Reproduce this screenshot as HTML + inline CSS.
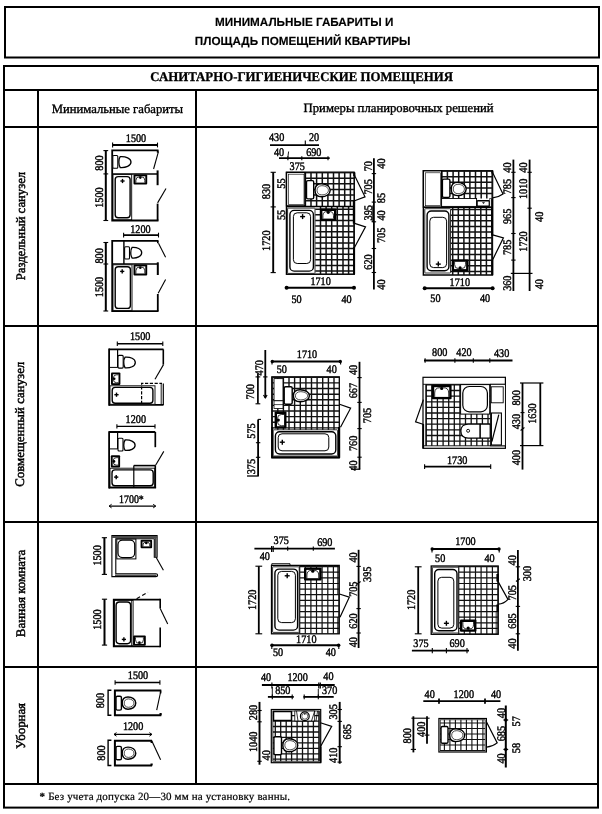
<!DOCTYPE html>
<html lang="ru">
<head>
<meta charset="utf-8">
<title>Минимальные габариты и площадь помещений квартиры</title>
<style>
html,body{margin:0;padding:0;background:#fff;}
body{width:602px;height:814px;overflow:hidden;font-family:"Liberation Serif",serif;}
svg{display:block;position:absolute;left:0;top:0;filter:grayscale(1);}
.frame line,.frame rect{stroke:#000;stroke-width:2;fill:none;}
.t-sans{font-family:"Liberation Sans",sans-serif;font-weight:bold;font-size:11.8px;fill:#000;stroke:#000;stroke-width:0.15;}
.t-head{font-family:"Liberation Serif",serif;font-weight:bold;font-size:13.3px;fill:#000;stroke:#000;stroke-width:0.3;}
.t-col{font-family:"Liberation Serif",serif;font-size:12.6px;fill:#000;stroke:#000;stroke-width:0.35;}
.t-row{font-family:"Liberation Serif",serif;font-size:13px;fill:#000;stroke:#000;stroke-width:0.45;}
.t-foot{font-family:"Liberation Serif",serif;font-size:11px;fill:#000;stroke:#000;stroke-width:0.2;}
.d{font-family:"Liberation Serif",serif;font-size:11.6px;fill:#000;stroke:#000;stroke-width:0.42;}
.w{stroke:#000;stroke-width:1.6;fill:none;}
.l{stroke:#000;stroke-width:1;fill:none;}
.k{stroke:#000;stroke-width:1.3;fill:none;}
.f{stroke:#000;stroke-width:0.9;fill:#fff;}
.g{stroke:#111;stroke-width:0.7;fill:none;}
.gr{stroke:#4a4a4a;fill:none;}
.blk{fill:#000;stroke:none;}
.wh{fill:#fff;stroke:none;}
</style>
</head>
<body>
<svg width="602" height="814" viewBox="0 0 602 814" text-rendering="geometricPrecision">
<rect x="0" y="0" width="602" height="814" fill="#fff"/>

<!-- ===== FRAME ===== -->
<g class="frame">
  <rect x="5" y="7" width="594" height="50.5"/>
  <rect x="4" y="66" width="594" height="741.6"/>
  <line x1="4" y1="90" x2="598" y2="90"/>
  <line x1="4" y1="127" x2="598" y2="127"/>
  <line x1="4" y1="326" x2="598" y2="326"/>
  <line x1="4" y1="522" x2="598" y2="522"/>
  <line x1="4" y1="667" x2="598" y2="667"/>
  <line x1="4" y1="784" x2="598" y2="784"/>
  <line x1="38" y1="90" x2="38" y2="784"/>
  <line x1="196" y1="90" x2="196" y2="784"/>
</g>

<!-- ===== HEADINGS ===== -->
<text class="t-sans" x="215" y="26.3" textLength="178.3" lengthAdjust="spacingAndGlyphs">МИНИМАЛЬНЫЕ ГАБАРИТЫ И</text>
<text class="t-sans" x="194.8" y="45.2" textLength="215.7" lengthAdjust="spacingAndGlyphs">ПЛОЩАДЬ ПОМЕЩЕНИЙ КВАРТИРЫ</text>
<text class="t-head" x="150.3" y="81.4" textLength="302.7" lengthAdjust="spacingAndGlyphs">САНИТАРНО-ГИГИЕНИЧЕСКИЕ ПОМЕЩЕНИЯ</text>
<text class="t-col" x="51.7" y="112.6" textLength="131.4" lengthAdjust="spacingAndGlyphs">Минимальные габариты</text>
<text class="t-col" x="303.6" y="112.4" textLength="190" lengthAdjust="spacingAndGlyphs">Примеры планировочных решений</text>

<text class="t-row" transform="translate(25.3,280.3) rotate(-90)" textLength="108.4" lengthAdjust="spacingAndGlyphs">Раздельный санузел</text>
<text class="t-row" transform="translate(24.3,486.8) rotate(-90)" textLength="125.1" lengthAdjust="spacingAndGlyphs">Совмещенный санузел</text>
<text class="t-row" transform="translate(25.1,637.2) rotate(-90)" textLength="87.5" lengthAdjust="spacingAndGlyphs">Ванная комната</text>
<text class="t-row" transform="translate(25.2,749) rotate(-90)" textLength="46" lengthAdjust="spacingAndGlyphs">Уборная</text>

<text class="t-foot" x="39.6" y="799.7" textLength="250.4" lengthAdjust="spacing"><tspan font-weight="bold">*</tspan> Без учета допуска 20—30 мм на установку ванны.</text>

<!-- ===== DRAWINGS ===== -->
<!-- ===== LEFT COLUMN: minimal sizes ===== -->
<g id="l1a">
<text class="d" transform="translate(136,141.8) scale(.88,1)" text-anchor="middle">1500</text>
<line class="k" x1="112.6" y1="145" x2="157.5" y2="145" style="stroke-width:1.9"/>
<line class="l" x1="112.6" y1="142.6" x2="112.6" y2="147.4" style="stroke-width:1.1"/>
<line class="l" x1="157.5" y1="142.6" x2="157.5" y2="147.4" style="stroke-width:1.1"/>
<line class="k" x1="105.8" y1="150.6" x2="105.8" y2="220.5" style="stroke-width:2"/>
<line class="l" x1="103.4" y1="150.6" x2="108.2" y2="150.6" style="stroke-width:1.1"/>
<line class="l" x1="103.4" y1="173.9" x2="108.2" y2="173.9" style="stroke-width:1.1"/>
<line class="l" x1="103.4" y1="220.5" x2="108.2" y2="220.5" style="stroke-width:1.1"/>
<text class="d" transform="translate(98.6,163) rotate(-90) scale(.88,1)" y="3.9" text-anchor="middle">800</text>
<text class="d" transform="translate(98.6,197.6) rotate(-90) scale(.88,1)" y="3.9" text-anchor="middle">1500</text>
<path class="w" d="M158.5 150.3 L112.2 150.3 L112.2 220.5 L158.5 220.5" style="stroke-width:1.8"/>
<line class="w" x1="112.2" y1="173.9" x2="157.5" y2="173.9" style="stroke-width:1.5"/>
<line class="w" x1="157.6" y1="150.3" x2="157.6" y2="152.7" style="stroke-width:1.6"/>
<line class="w" x1="157.6" y1="170.4" x2="157.6" y2="185.2" style="stroke-width:2"/>
<line class="w" x1="157.6" y1="203.6" x2="157.6" y2="220.5" style="stroke-width:1.8"/>
<line class="l" x1="158.5" y1="151.3" x2="153.6" y2="169" style="stroke-width:1.1"/>
<line class="l" x1="166" y1="188.5" x2="157.6" y2="202.9" style="stroke-width:1.1"/>
<rect class="f" x="112.8" y="155.5" width="5" height="12.8" rx="1" style="stroke-width:1.1"/>
<path class="f" d="M120.2 156.7 C125.6 156.3 131 158.3 131 162.1 C131 165.9 125.6 167.9 120.2 167.5 C118.4 165.1 118.4 159.1 120.2 156.7 Z" style="stroke-width:1.3"/>
<rect class="f" x="113" y="174.6" width="18.7" height="45.1" style="stroke-width:0.9"/>
<rect class="f" x="115.2" y="176.6" width="14.9" height="41.1" rx="3" style="stroke-width:1.4"/>
<line class="l" x1="120.4" y1="181" x2="124.6" y2="181" style="stroke-width:1.4"/>
<line class="l" x1="122.5" y1="178.9" x2="122.5" y2="183.1" style="stroke-width:1.4"/>
<rect class="blk" x="133.5" y="174.4" width="13.7" height="10.1" rx="1"/>
<rect class="wh" x="135.4" y="176.3" width="9.9" height="6.3"/>
<path class="l" d="M135.9 182.6 V180.3 Q135.9 176.8 139.4 176.8 H141.3 Q144.8 176.8 144.8 180.3 V182.6" style="stroke-width:0.8"/>
<circle class="blk" cx="140.3" cy="177.6" r="1.3"/>
</g>
<g id="l1b">
<text class="d" transform="translate(140.4,232.6) scale(.88,1)" text-anchor="middle">1200</text>
<line class="k" x1="123.6" y1="235.1" x2="158.5" y2="235.1" style="stroke-width:1.9"/>
<line class="l" x1="123.6" y1="232.7" x2="123.6" y2="237.5" style="stroke-width:1.1"/>
<line class="l" x1="158.5" y1="232.7" x2="158.5" y2="237.5" style="stroke-width:1.1"/>
<line class="k" x1="105.8" y1="242.5" x2="105.8" y2="311" style="stroke-width:2"/>
<line class="l" x1="103.4" y1="242.5" x2="108.2" y2="242.5" style="stroke-width:1.1"/>
<line class="l" x1="103.4" y1="264" x2="108.2" y2="264" style="stroke-width:1.1"/>
<line class="l" x1="103.4" y1="311" x2="108.2" y2="311" style="stroke-width:1.1"/>
<text class="d" transform="translate(98.6,255.9) rotate(-90) scale(.88,1)" y="3.9" text-anchor="middle">800</text>
<text class="d" transform="translate(98.6,287) rotate(-90) scale(.88,1)" y="3.9" text-anchor="middle">1500</text>
<path class="w" d="M158.5 240.9 L112.2 240.9 L112.2 311.2 L158.5 311.2" style="stroke-width:1.8"/>
<line class="w" x1="112.2" y1="264" x2="157.8" y2="264" style="stroke-width:1.5"/>
<line class="w" x1="123.9" y1="240.9" x2="123.9" y2="264" style="stroke-width:1.4"/>
<line class="w" x1="157.8" y1="240.9" x2="157.8" y2="243.2" style="stroke-width:1.6"/>
<line class="w" x1="157.8" y1="262.3" x2="157.8" y2="275" style="stroke-width:2"/>
<line class="w" x1="157.8" y1="294" x2="157.8" y2="311.2" style="stroke-width:1.8"/>
<line class="l" x1="158.5" y1="243.2" x2="165.6" y2="257.3" style="stroke-width:1.1"/>
<line class="l" x1="165.6" y1="279.6" x2="158.2" y2="293.3" style="stroke-width:1.1"/>
<rect class="f" x="124.6" y="246.7" width="4.9" height="12.3" rx="1" style="stroke-width:1.1"/>
<path class="f" d="M132.1 247.4 C136.8 247 141.7 249 141.7 252.7 C141.7 256.4 136.8 258.4 132.1 258 C130.3 255.6 130.3 249.8 132.1 247.4 Z" style="stroke-width:1.3"/>
<rect class="f" x="113" y="264.8" width="19" height="45.6" style="stroke-width:0.9"/>
<rect class="f" x="115.2" y="266.8" width="15.2" height="41.6" rx="3" style="stroke-width:1.4"/>
<line class="l" x1="120.1" y1="271.4" x2="124.3" y2="271.4" style="stroke-width:1.4"/>
<line class="l" x1="122.2" y1="269.3" x2="122.2" y2="273.5" style="stroke-width:1.4"/>
<rect class="blk" x="133.5" y="264.5" width="13.7" height="10.9" rx="1"/>
<rect class="wh" x="135.4" y="266.4" width="9.9" height="7.1"/>
<path class="l" d="M135.9 273.5 V270.8 Q135.9 266.9 139.8 266.9 H140.9 Q144.8 266.9 144.8 270.8 V273.5" style="stroke-width:0.8"/>
<circle class="blk" cx="140.3" cy="267.7" r="1.3"/>
</g>
<g id="l2a">
<text class="d" transform="translate(140.2,340.2) scale(.88,1)" text-anchor="middle">1500</text>
<line class="k" x1="117.3" y1="343.7" x2="162.8" y2="343.7" style="stroke-width:1.4"/>
<line class="l" x1="117.3" y1="341.5" x2="117.3" y2="345.9" style="stroke-width:1.1"/>
<line class="l" x1="162.8" y1="341.5" x2="162.8" y2="345.9" style="stroke-width:1.1"/>
<path class="w" d="M109.1 349.4 L163.5 349.4" style="stroke-width:1.8"/>
<path class="w" d="M109.1 348.6 L109.1 405.7" style="stroke-width:1.8"/>
<line class="w" x1="109.1" y1="404.9" x2="163.5" y2="404.9" style="stroke-width:1.8"/>
<line class="w" x1="163.3" y1="349.4" x2="163.3" y2="364.6" style="stroke-width:1.6"/>
<line class="l" x1="163.5" y1="364.6" x2="155" y2="379.2" style="stroke-width:1.1"/>
<line class="l" x1="163.3" y1="383.4" x2="163.3" y2="404.9" style="stroke-width:1.2"/>
<line class="l" x1="161.2" y1="383.4" x2="161.2" y2="404" style="stroke-width:0.9"/>
<line class="l" x1="117.6" y1="349.4" x2="117.6" y2="367.4" style="stroke-width:1.2"/>
<line class="l" x1="109.1" y1="367.4" x2="117.6" y2="367.4" style="stroke-width:1"/>
<rect class="f" x="118" y="355.4" width="5.2" height="12.7" rx="1" style="stroke-width:1.1"/>
<path class="f" d="M125.1 357.1 C130.2 356.7 135.3 358.7 135.3 362.5 C135.3 366.3 130.2 368.3 125.1 367.9 C123.3 365.5 123.3 359.5 125.1 357.1 Z" style="stroke-width:1.3"/>
<rect class="blk" x="111" y="372.4" width="9.4" height="12.7" rx="1"/>
<rect class="wh" x="112.9" y="374.3" width="5.6" height="8.9"/>
<path class="l" d="M118.5 374.8 H116.5 Q113.4 374.8 113.4 377.9 V379.6 Q113.4 382.7 116.5 382.7 H118.5" style="stroke-width:0.8"/>
<circle class="blk" cx="114.2" cy="378.8" r="1.3"/>
<rect class="f" x="110" y="385.8" width="45" height="18.5" style="stroke-width:0.9"/>
<rect class="f" x="112.2" y="387.4" width="40.7" height="15.8" rx="3" style="stroke-width:1.4"/>
<line class="l" x1="114.4" y1="394.7" x2="118.6" y2="394.7" style="stroke-width:1.4"/>
<line class="l" x1="116.5" y1="392.6" x2="116.5" y2="396.8" style="stroke-width:1.4"/>
<path class="l" d="M141.6 404 V383.4 H162" style="stroke-width:1.2" stroke-dasharray="3.2 1.6"/>
<text class="d" transform="translate(135.8,423.4) scale(.88,1)" text-anchor="middle">1200</text>
<line class="k" x1="116.9" y1="426.4" x2="155" y2="426.4" style="stroke-width:1.4"/>
<line class="l" x1="116.9" y1="424.2" x2="116.9" y2="428.6" style="stroke-width:1.1"/>
<line class="l" x1="155" y1="424.2" x2="155" y2="428.6" style="stroke-width:1.1"/>
</g>
<g id="l2b">
<path class="w" d="M109.1 431.2 L109.1 488.5" style="stroke-width:1.8"/>
<line class="w" x1="109.1" y1="432" x2="155.3" y2="432" style="stroke-width:1.8"/>
<line class="w" x1="109.1" y1="487.7" x2="156.1" y2="487.7" style="stroke-width:1.8"/>
<line class="w" x1="155.3" y1="432" x2="155.3" y2="447.2" style="stroke-width:1.7"/>
<line class="w" x1="155.3" y1="465.8" x2="155.3" y2="487.7" style="stroke-width:1.6"/>
<line class="l" x1="163.8" y1="451.4" x2="155.3" y2="465.8" style="stroke-width:1.1"/>
<line class="l" x1="117.6" y1="432" x2="117.6" y2="448.9" style="stroke-width:1.2"/>
<line class="l" x1="109.1" y1="448.9" x2="117.6" y2="448.9" style="stroke-width:1"/>
<rect class="f" x="118" y="438.3" width="5" height="12.7" rx="1" style="stroke-width:1.1"/>
<path class="f" d="M125.1 440 C130.1 439.6 135.1 441.6 135.1 445.2 C135.1 448.8 130.1 450.8 125.1 450.4 C123.3 448.1 123.3 442.3 125.1 440 Z" style="stroke-width:1.3"/>
<rect class="blk" x="110.8" y="455.3" width="9.3" height="12.2" rx="1"/>
<rect class="wh" x="112.7" y="457.2" width="5.5" height="8.4"/>
<path class="l" d="M118.2 457.7 H116.2 Q113.2 457.7 113.2 460.7 V462.1 Q113.2 465.1 116.2 465.1 H118.2" style="stroke-width:0.8"/>
<circle class="blk" cx="114" cy="461.4" r="1.3"/>
<rect class="f" x="110" y="468.2" width="44.6" height="18.8" style="stroke-width:0.9"/>
<rect class="f" x="112" y="469.9" width="41.2" height="15.8" rx="3" style="stroke-width:1.4"/>
<line class="l" x1="114.1" y1="477.1" x2="118.3" y2="477.1" style="stroke-width:1.4"/>
<line class="l" x1="116.2" y1="475" x2="116.2" y2="479.2" style="stroke-width:1.4"/>
<line class="l" x1="133.8" y1="465.6" x2="155.3" y2="465.6" style="stroke-width:1.6"/>
<line class="l" x1="133.8" y1="465.6" x2="133.8" y2="487.7" style="stroke-width:1.2"/>
<text class="d" transform="translate(131.4,502.6) scale(.88,1)" text-anchor="middle" textLength="28.1" lengthAdjust="spacingAndGlyphs">1700*</text>
<line class="k" x1="109.1" y1="506.1" x2="155.7" y2="506.1" style="stroke-width:1.4"/>
<path class="l" d="M111.6 504.3 L109.1 506.1 L111.6 507.9" style="stroke-width:1"/>
<path class="l" d="M153.2 504.3 L155.7 506.1 L153.2 507.9" style="stroke-width:1"/>
</g>
<g id="l3a">
<line class="k" x1="104.4" y1="537.7" x2="104.4" y2="574.4" style="stroke-width:2"/>
<line class="l" x1="101.8" y1="537.7" x2="107" y2="537.7" style="stroke-width:1.1"/>
<line class="l" x1="101.8" y1="574.4" x2="107" y2="574.4" style="stroke-width:1.1"/>
<text class="d" transform="translate(97,555.4) rotate(-90) scale(.88,1)" y="3.9" text-anchor="middle">1500</text>
<path class="f" d="M111.9 535.6 H157.1 V557.2 H154.3 V538.7 H115.8 V573.7 H156 Q157.6 573.7 157.6 575.2 Q157.6 576.6 156 576.6 H111.9 Z" style="stroke-width:1.1"/>
<line class="gr" x1="112" y1="537.1" x2="157" y2="537.1" style="stroke-width:2"/>
<line class="gr" x1="155.7" y1="537" x2="155.7" y2="557" style="stroke-width:1.8"/>
<line class="gr" x1="115" y1="575.2" x2="156.5" y2="575.2" style="stroke-width:1.4"/>
<line class="l" x1="156.1" y1="557.2" x2="163.4" y2="570.2" style="stroke-width:1.1"/>
<rect class="f" x="116.8" y="539.1" width="19.1" height="19.8" style="stroke-width:1"/>
<rect class="f" x="118" y="540.2" width="16.7" height="17.4" rx="4.5" style="stroke-width:1.2"/>
<rect class="blk" x="140.6" y="539.8" width="11.5" height="8.5" rx="1"/>
<rect class="wh" x="142.5" y="541.7" width="7.7" height="4.7"/>
<path class="l" d="M143 546.4 V544.8 Q143 542.2 145.6 542.2 H147.1 Q149.7 542.2 149.7 544.8 V546.4" style="stroke-width:0.8"/>
<circle class="blk" cx="146.3" cy="543" r="1.3"/>
</g>
<g id="l3b">
<line class="k" x1="104.5" y1="599.2" x2="104.5" y2="645.1" style="stroke-width:2"/>
<line class="l" x1="101.9" y1="599.2" x2="107.1" y2="599.2" style="stroke-width:1.1"/>
<line class="l" x1="101.9" y1="645.1" x2="107.1" y2="645.1" style="stroke-width:1.1"/>
<text class="d" transform="translate(97,619.6) rotate(-90) scale(.88,1)" y="3.9" text-anchor="middle">1500</text>
<path class="w" d="M160.2 599.6 L113.7 599.6 L113.7 646.5 L160.2 646.5" style="stroke-width:1.7"/>
<line class="w" x1="160.2" y1="598.8" x2="160.2" y2="608.4" style="stroke-width:1.6"/>
<line class="w" x1="160.2" y1="627.4" x2="160.2" y2="647.3" style="stroke-width:1.6"/>
<line class="l" x1="160.2" y1="608.4" x2="167.7" y2="623.9" style="stroke-width:1.1"/>
<line class="l" x1="136.6" y1="598.8" x2="147.9" y2="592.1" style="stroke-width:1.1" stroke-dasharray="4 2.5"/>
<rect class="f" x="114.5" y="600.4" width="18.6" height="45.3" style="stroke-width:0.9"/>
<line class="l" x1="131.6" y1="600" x2="131.6" y2="646" style="stroke-width:0.8"/>
<rect class="f" x="116.1" y="602" width="14.5" height="41.7" rx="3.4" style="stroke-width:1.4"/>
<line class="l" x1="121.8" y1="639.4" x2="126" y2="639.4" style="stroke-width:1.4"/>
<line class="l" x1="123.9" y1="637.3" x2="123.9" y2="641.5" style="stroke-width:1.4"/>
<rect class="blk" x="133.1" y="635.5" width="12.7" height="10.3" rx="1"/>
<rect class="wh" x="135" y="637.4" width="8.9" height="6.5"/>
<path class="l" d="M135.5 637.4 V639.8 Q135.5 643.4 139.1 643.4 H139.8 Q143.4 643.4 143.4 639.8 V637.4" style="stroke-width:0.8"/>
<circle class="blk" cx="139.4" cy="642.6" r="1.3"/>
</g>
<g id="l4a">
<text class="d" transform="translate(138,678.6) scale(.88,1)" text-anchor="middle">1500</text>
<line class="k" x1="115.1" y1="682.5" x2="159.9" y2="682.5" style="stroke-width:1.4"/>
<line class="l" x1="115.1" y1="680.3" x2="115.1" y2="684.7" style="stroke-width:1.1"/>
<line class="l" x1="159.9" y1="680.3" x2="159.9" y2="684.7" style="stroke-width:1.1"/>
<path class="l" d="M111.4 690.3 L108.1 690.3 L108.1 715.3 L111.4 715.3" style="stroke-width:1.4"/>
<text class="d" transform="translate(99.8,700.6) rotate(-90) scale(.88,1)" y="3.9" text-anchor="middle">800</text>
<path class="w" d="M161.3 690.6 L114.9 690.6 L114.9 715.3 L161.3 715.3" style="stroke-width:2"/>
<line class="w" x1="160.6" y1="690.6" x2="160.6" y2="693.4" style="stroke-width:1.6"/>
<line class="w" x1="160.6" y1="713" x2="160.6" y2="715.3" style="stroke-width:2.2"/>
<line class="l" x1="160.6" y1="692" x2="156.7" y2="710.1" style="stroke-width:1.1"/>
<rect class="f" x="116" y="696.2" width="5.4" height="13.9" rx="1.4" style="stroke-width:1.4"/>
<path class="f" d="M128 697 C132.1 697 135.8 699.3 135.8 703.1 C135.8 706.9 132.1 709.2 128 709.2 C124.4 709.2 122.2 706.8 122.2 703.1 C122.2 699.4 124.4 697 128 697 Z" style="stroke-width:1.4"/>
<path class="f" d="M128.4 698.9 C131.3 698.9 134 700.5 134 703.1 C134 705.7 131.3 707.3 128.4 707.3 C125.8 707.3 124.2 705.6 124.2 703.1 C124.2 700.6 125.8 698.9 128.4 698.9 Z" style="stroke-width:0.7"/>
</g>
<g id="l4b">
<text class="d" transform="translate(133.1,730.1) scale(.88,1)" text-anchor="middle">1200</text>
<line class="k" x1="114" y1="734.4" x2="151.9" y2="734.4" style="stroke-width:1.4"/>
<path class="l" d="M116.5 732.6 L114 734.4 L116.5 736.2" style="stroke-width:1"/>
<path class="l" d="M149.4 732.6 L151.9 734.4 L149.4 736.2" style="stroke-width:1"/>
<path class="l" d="M111.4 740.3 L108.1 740.3 L108.1 765.5 L111.4 765.5" style="stroke-width:1.4"/>
<text class="d" transform="translate(100.6,753) rotate(-90) scale(.88,1)" y="3.9" text-anchor="middle">800</text>
<path class="w" d="M152.1 740.7 L114.9 740.7 L114.9 765.5 L152.1 765.5" style="stroke-width:2"/>
<line class="w" x1="151.6" y1="740.7" x2="151.6" y2="743" style="stroke-width:2"/>
<line class="w" x1="151.6" y1="763.5" x2="151.6" y2="765.5" style="stroke-width:2.2"/>
<line class="l" x1="152.1" y1="741.4" x2="160.6" y2="759.8" style="stroke-width:1.1"/>
<rect class="f" x="116" y="746.4" width="5.4" height="13.4" rx="1.4" style="stroke-width:1.4"/>
<path class="f" d="M128 747.1 C132.1 747.1 135.8 749.4 135.8 753.2 C135.8 757 132.1 759.3 128 759.3 C124.4 759.3 122.2 756.9 122.2 753.2 C122.2 749.5 124.4 747.1 128 747.1 Z" style="stroke-width:1.4"/>
<path class="f" d="M128.4 749 C131.3 749 134 750.6 134 753.2 C134 755.8 131.3 757.4 128.4 757.4 C125.8 757.4 124.2 755.7 124.2 753.2 C124.2 750.7 125.8 749 128.4 749 Z" style="stroke-width:0.7"/>
</g>
<!-- ===== ROW 1 RIGHT: examples ===== -->
<g id="r1a">
<text class="d" transform="translate(276.6,141) scale(.88,1)" text-anchor="middle">430</text>
<text class="d" transform="translate(314,141) scale(.88,1)" text-anchor="middle">20</text>
<line class="k" x1="270" y1="145.1" x2="319" y2="145.1" style="stroke-width:1.8"/>
<line class="l" x1="305.3" y1="140.5" x2="305.3" y2="146" style="stroke-width:1.1"/>
<text class="d" transform="translate(279,155.9) scale(.88,1)" text-anchor="middle">40</text>
<text class="d" transform="translate(313.8,155.9) scale(.88,1)" text-anchor="middle">690</text>
<path class="l" d="M288.6 151.5 L287.9 157" style="stroke-width:0.9"/>
<line class="k" x1="279" y1="158.2" x2="329.7" y2="158.2" style="stroke-width:1.8"/>
<line class="l" x1="287.9" y1="156.2" x2="287.9" y2="160.2" style="stroke-width:1.1"/>
<line class="l" x1="301.8" y1="156.2" x2="301.8" y2="160.2" style="stroke-width:1.1"/>
<line class="l" x1="328" y1="156.2" x2="328" y2="160.2" style="stroke-width:1.1"/>
<text class="d" transform="translate(297.2,169.9) scale(.88,1)" text-anchor="middle">375</text>
<line class="k" x1="273.2" y1="172.3" x2="273.2" y2="272.6" style="stroke-width:1.9"/>
<line class="l" x1="270.6" y1="172.3" x2="275.8" y2="172.3" style="stroke-width:1.1"/>
<line class="l" x1="270.6" y1="206.9" x2="275.8" y2="206.9" style="stroke-width:1.1"/>
<line class="l" x1="270.6" y1="272.6" x2="275.8" y2="272.6" style="stroke-width:1.1"/>
<text class="d" transform="translate(266.4,191.5) rotate(-90) scale(.88,1)" y="3.9" text-anchor="middle">830</text>
<text class="d" transform="translate(266.4,240.7) rotate(-90) scale(.88,1)" y="3.9" text-anchor="middle">1720</text>
<text class="d" transform="translate(281.2,183.6) rotate(-90) scale(.88,1)" y="3.9" text-anchor="middle">55</text>
<text class="d" transform="translate(281.2,214.9) rotate(-90) scale(.88,1)" y="3.9" text-anchor="middle">55</text>
<rect class="f" x="286.5" y="172.4" width="67.7" height="101.8" style="stroke-width:1.5"/>
<path class="g" d="M305.4 172.4V206M311 172.4V206M316.6 172.4V206M322.3 172.4V206M327.9 172.4V206M333.5 172.4V206M339.1 172.4V206M344.7 172.4V206M350.4 172.4V206M305.4 172.6H354.2M305.4 178.2H354.2M305.4 183.8H354.2M305.4 189.5H354.2M305.4 195.1H354.2M305.4 200.7H354.2" style="stroke-width:1.5"/>
<path class="g" d="M320.5 207V274.2M326.1 207V274.2M331.7 207V274.2M337.3 207V274.2M343 207V274.2M348.6 207V274.2M354.2 207V274.2M315.3 209.2H354.2M315.3 214.8H354.2M315.3 220.4H354.2M315.3 226.1H354.2M315.3 231.7H354.2M315.3 237.3H354.2M315.3 242.9H354.2M315.3 248.5H354.2M315.3 254.2H354.2M315.3 259.8H354.2M315.3 265.4H354.2M315.3 271H354.2" style="stroke-width:1.5"/>
<rect class="f" x="286.5" y="172.4" width="18.4" height="33.5" style="stroke-width:1.3"/>
<rect class="f" x="288.3" y="174.2" width="15.7" height="30.3" style="stroke-width:0.6"/>
<line class="l" x1="286.5" y1="206.5" x2="354.2" y2="206.5" style="stroke-width:1.7"/>
<line class="w" x1="354" y1="200.4" x2="354" y2="223.6" style="stroke-width:2.4"/>
<line class="w" x1="354.3" y1="172.4" x2="354.3" y2="176" style="stroke-width:2.2"/>
<line class="w" x1="354.1" y1="247" x2="354.1" y2="274.2" style="stroke-width:2"/>
<rect class="f" x="306.5" y="180.6" width="7.2" height="18.3" rx="1.4" style="stroke-width:1.4"/>
<path class="f" d="M321.5 183.8 C326 183.8 330.2 186.3 330.2 190.3 C330.2 194.3 326 196.8 321.5 196.8 C317.4 196.8 315 194.2 315 190.3 C315 186.4 317.4 183.8 321.5 183.8 Z" style="stroke-width:1.4"/>
<path class="f" d="M321.8 185.7 C325.3 185.7 328.4 187.4 328.4 190.3 C328.4 193.2 325.3 194.9 321.8 194.9 C318.8 194.9 317 193.1 317 190.3 C317 187.5 318.8 185.7 321.8 185.7 Z" style="stroke-width:0.7"/>
<rect class="f" x="287.6" y="208.1" width="27.4" height="65.3" rx="0.6" style="stroke-width:0.8"/>
<rect class="f" x="289.9" y="210.4" width="23.5" height="60.7" rx="4.2" style="stroke-width:1.4"/>
<rect class="f" x="293.4" y="212.8" width="17.2" height="50.7" rx="3.8" style="stroke-width:1"/>
<line class="l" x1="300.1" y1="216.6" x2="305.1" y2="216.6" style="stroke-width:1.4"/>
<line class="l" x1="302.6" y1="214.1" x2="302.6" y2="219.1" style="stroke-width:1.4"/>
<rect class="blk" x="320" y="208.6" width="16.4" height="12.4" rx="1"/>
<rect class="wh" x="322.4" y="211" width="11.6" height="7.6"/>
<path class="l" d="M322.9 218.6 V215.7 Q322.9 211.5 327.1 211.5 H329.3 Q333.5 211.5 333.5 215.7 V218.6" style="stroke-width:0.8"/>
<circle class="blk" cx="328.2" cy="212.3" r="1.6"/>
<path class="l" d="M354.6 175.5 L365 196.8 L354.6 200.8" style="stroke-width:1.2"/>
<path class="l" d="M354.6 223.4 L365.5 226.9 L354.6 247.3" style="stroke-width:1.2"/>
<line class="k" x1="373.9" y1="158.2" x2="373.9" y2="289.6" style="stroke-width:1.8"/>
<line class="l" x1="371.7" y1="173.6" x2="376.1" y2="173.6" style="stroke-width:1.1"/>
<line class="l" x1="371.7" y1="202.1" x2="376.1" y2="202.1" style="stroke-width:1.1"/>
<line class="l" x1="371.7" y1="221.8" x2="376.1" y2="221.8" style="stroke-width:1.1"/>
<line class="l" x1="371.7" y1="248.5" x2="376.1" y2="248.5" style="stroke-width:1.1"/>
<line class="l" x1="371.7" y1="272.5" x2="376.1" y2="272.5" style="stroke-width:1.1"/>
<text class="d" transform="translate(367.6,166.2) rotate(-90) scale(.88,1)" y="3.9" text-anchor="middle">70</text>
<text class="d" transform="translate(367.6,186.9) rotate(-90) scale(.88,1)" y="3.9" text-anchor="middle">705</text>
<text class="d" transform="translate(367.6,212.8) rotate(-90) scale(.88,1)" y="3.9" text-anchor="middle">395</text>
<text class="d" transform="translate(367.6,262) rotate(-90) scale(.88,1)" y="3.9" text-anchor="middle">620</text>
<text class="d" transform="translate(380.6,163.6) rotate(-90) scale(.88,1)" y="3.9" text-anchor="middle">40</text>
<text class="d" transform="translate(380.6,198.1) rotate(-90) scale(.88,1)" y="3.9" text-anchor="middle">85</text>
<text class="d" transform="translate(380.6,215.4) rotate(-90) scale(.88,1)" y="3.9" text-anchor="middle">40</text>
<text class="d" transform="translate(380.6,235.4) rotate(-90) scale(.88,1)" y="3.9" text-anchor="middle">705</text>
<text class="d" transform="translate(380.6,284.6) rotate(-90) scale(.88,1)" y="3.9" text-anchor="middle">40</text>
<line class="l" x1="372.3" y1="205.5" x2="372.3" y2="222" style="stroke-width:0.9"/>
<text class="d" transform="translate(320.6,284.7) scale(.88,1)" text-anchor="middle">1710</text>
<line class="k" x1="286.2" y1="287.8" x2="354.2" y2="287.8" style="stroke-width:2"/>
<circle cx="286.6" cy="287.8" r="2"/><circle cx="354" cy="287.8" r="2"/>
<text class="d" transform="translate(296.5,303) scale(.88,1)" text-anchor="middle">50</text>
<text class="d" transform="translate(346.5,303) scale(.88,1)" text-anchor="middle">40</text>
</g>
<g id="r1b">
<rect class="f" x="423.4" y="170.8" width="69" height="104.2" style="stroke-width:1.5"/>
<path class="g" d="M441.8 170.8V198.4M447.4 170.8V198.4M453.1 170.8V198.4M458.7 170.8V198.4M464.3 170.8V198.4M469.9 170.8V198.4M475.5 170.8V198.4M481.2 170.8V198.4M486.8 170.8V198.4M492.4 170.8V198.4M441.8 171.1H492.4M441.8 176.7H492.4M441.8 182.3H492.4M441.8 188H492.4M441.8 193.6H492.4" style="stroke-width:1.5"/>
<path class="g" d="M452.7 208V275M458.3 208V275M463.9 208V275M469.5 208V275M475.1 208V275M480.8 208V275M486.4 208V275M492 208V275M450.6 209.6H492.4M450.6 215.2H492.4M450.6 220.8H492.4M450.6 226.5H492.4M450.6 232.1H492.4M450.6 237.7H492.4M450.6 243.3H492.4M450.6 248.9H492.4M450.6 254.6H492.4M450.6 260.2H492.4M450.6 265.8H492.4M450.6 271.4H492.4" style="stroke-width:1.5"/>
<rect class="f" x="423.4" y="170.8" width="18.2" height="36.5" style="stroke-width:1.3"/>
<rect class="f" x="425.3" y="172.8" width="15.2" height="32.9" style="stroke-width:0.6"/>
<rect class="f" x="441.6" y="198.5" width="35" height="7.9" style="stroke-width:0.9"/>
<rect class="f" x="477" y="200.8" width="12.4" height="5.4" rx="0.8" style="stroke-width:1.5"/>
<path class="blk" d="M482 202.2 h3 l-1.5 1.8 Z"/>
<rect class="f" x="489.8" y="198.5" width="2.6" height="8.5" style="stroke-width:0.6"/>
<line class="l" x1="423.4" y1="207.3" x2="492.4" y2="207.3" style="stroke-width:1.6"/>
<line class="w" x1="492.2" y1="198.5" x2="492.2" y2="235.6" style="stroke-width:2.2"/>
<line class="w" x1="492.3" y1="170.8" x2="492.3" y2="173.5" style="stroke-width:2"/>
<line class="w" x1="492.3" y1="259.9" x2="492.3" y2="275" style="stroke-width:2"/>
<rect class="f" x="442.4" y="179.1" width="7.5" height="18.3" rx="1.4" style="stroke-width:1.4"/>
<path class="f" d="M457.6 182.4 C462.1 182.4 466.2 184.9 466.2 189 C466.2 193.1 462.1 195.6 457.6 195.6 C453.6 195.6 451.2 193 451.2 189 C451.2 185 453.6 182.4 457.6 182.4 Z" style="stroke-width:1.4"/>
<path class="f" d="M458 184.3 C461.3 184.3 464.4 186.1 464.4 189 C464.4 191.9 461.3 193.7 458 193.7 C455 193.7 453.2 191.8 453.2 189 C453.2 186.2 455 184.3 458 184.3 Z" style="stroke-width:0.7"/>
<rect class="f" x="424.8" y="208.7" width="25.7" height="64.3" rx="0.6" style="stroke-width:0.8"/>
<rect class="f" x="427.1" y="211" width="21.8" height="59.7" rx="4.2" style="stroke-width:1.4"/>
<rect class="f" x="429.8" y="217.3" width="16.8" height="50.3" rx="3.8" style="stroke-width:1"/>
<line class="l" x1="435.8" y1="264.1" x2="440.8" y2="264.1" style="stroke-width:1.4"/>
<line class="l" x1="438.3" y1="261.6" x2="438.3" y2="266.6" style="stroke-width:1.4"/>
<rect class="blk" x="451.7" y="259.4" width="16.8" height="12.1" rx="1"/>
<rect class="wh" x="454.1" y="261.8" width="12" height="7.3"/>
<path class="l" d="M454.6 261.8 V264.6 Q454.6 268.6 458.6 268.6 H461.6 Q465.6 268.6 465.6 264.6 V261.8" style="stroke-width:0.8"/>
<circle class="blk" cx="460.1" cy="267.8" r="1.6"/>
<path class="l" d="M492.6 172.5 L503 194 Q498 197.6 492.6 197.9" style="stroke-width:1.2"/>
<path class="l" d="M492.6 234.8 L503.4 237.8 L492.6 259.9" style="stroke-width:1.2"/>
<line class="k" x1="513.4" y1="159.6" x2="513.4" y2="291" style="stroke-width:1.8"/>
<line class="l" x1="511.2" y1="172.3" x2="515.6" y2="172.3" style="stroke-width:1.1"/>
<line class="l" x1="511.2" y1="197.6" x2="515.6" y2="197.6" style="stroke-width:1.1"/>
<line class="l" x1="511.2" y1="233.5" x2="515.6" y2="233.5" style="stroke-width:1.1"/>
<line class="l" x1="511.2" y1="260.1" x2="515.6" y2="260.1" style="stroke-width:1.1"/>
<line class="k" x1="529.6" y1="159.6" x2="529.6" y2="291" style="stroke-width:1.8"/>
<line class="l" x1="527.4" y1="172.3" x2="531.8" y2="172.3" style="stroke-width:1.1"/>
<line class="l" x1="527.4" y1="208.2" x2="531.8" y2="208.2" style="stroke-width:1.1"/>
<line class="l" x1="510.8" y1="273.4" x2="532.5" y2="273.4" style="stroke-width:1.2"/>
<text class="d" transform="translate(506.8,167.6) rotate(-90) scale(.88,1)" y="3.9" text-anchor="middle">40</text>
<text class="d" transform="translate(506.8,186.6) rotate(-90) scale(.88,1)" y="3.9" text-anchor="middle">785</text>
<text class="d" transform="translate(506.8,216.4) rotate(-90) scale(.88,1)" y="3.9" text-anchor="middle">965</text>
<text class="d" transform="translate(506.8,247.4) rotate(-90) scale(.88,1)" y="3.9" text-anchor="middle">785</text>
<text class="d" transform="translate(506.8,283.2) rotate(-90) scale(.88,1)" y="3.9" text-anchor="middle">360</text>
<text class="d" transform="translate(522.9,167.6) rotate(-90) scale(.88,1)" y="3.9" text-anchor="middle">40</text>
<text class="d" transform="translate(522.9,188.8) rotate(-90) scale(.88,1)" y="3.9" text-anchor="middle">1010</text>
<text class="d" transform="translate(522.9,241.5) rotate(-90) scale(.88,1)" y="3.9" text-anchor="middle">1720</text>
<text class="d" transform="translate(538.6,216.8) rotate(-90) scale(.88,1)" y="3.9" text-anchor="middle">40</text>
<text class="d" transform="translate(538.6,284.2) rotate(-90) scale(.88,1)" y="3.9" text-anchor="middle">40</text>
<text class="d" transform="translate(459.8,285.9) scale(.88,1)" text-anchor="middle">1710</text>
<line class="k" x1="424.3" y1="288.3" x2="492.9" y2="288.3" style="stroke-width:2"/>
<circle cx="424.7" cy="288.3" r="2"/><circle cx="492.6" cy="288.3" r="2"/>
<text class="d" transform="translate(435.4,301.8) scale(.88,1)" text-anchor="middle">50</text>
<text class="d" transform="translate(485,301.8) scale(.88,1)" text-anchor="middle">40</text>
</g>
<!-- ===== ROW 2 RIGHT ===== -->
<g id="r2a">
<text class="d" transform="translate(307,357.9) scale(.88,1)" text-anchor="middle">1710</text>
<line class="k" x1="271.9" y1="361.5" x2="340.7" y2="361.5" style="stroke-width:1.9"/>
<line class="l" x1="272" y1="361.5" x2="272" y2="364.5" style="stroke-width:1.1"/>
<line class="l" x1="340.6" y1="361.5" x2="340.6" y2="364.5" style="stroke-width:1.1"/>
<circle cx="272.3" cy="361.5" r="1.7"/><circle cx="340.3" cy="361.5" r="1.7"/>
<text class="d" transform="translate(281.8,372.9) scale(.88,1)" text-anchor="middle">50</text>
<text class="d" transform="translate(331.7,372.9) scale(.88,1)" text-anchor="middle">40</text>
<line class="k" x1="265.3" y1="350" x2="265.3" y2="397.8" style="stroke-width:1.8"/>
<line class="l" x1="263.1" y1="376.9" x2="267.5" y2="376.9" style="stroke-width:1.1"/>
<path class="l" d="M263.5 395 L265.3 397.8 L267.1 395" style="stroke-width:1.2"/>
<line class="k" x1="257.9" y1="373.5" x2="257.9" y2="403.8" style="stroke-width:1.7"/>
<line class="l" x1="255.5" y1="376.9" x2="260.3" y2="376.9" style="stroke-width:1.1"/>
<line class="l" x1="255.5" y1="403.8" x2="260.3" y2="403.8" style="stroke-width:1.1"/>
<text class="d" transform="translate(258.6,367.8) rotate(-90) scale(.88,1)" y="3.9" text-anchor="middle">470</text>
<text class="d" transform="translate(250.5,391.8) rotate(-90) scale(.88,1)" y="3.9" text-anchor="middle">700</text>
<line class="k" x1="258.1" y1="419.4" x2="258.1" y2="476" style="stroke-width:1.8"/>
<line class="l" x1="255.9" y1="442.7" x2="260.3" y2="442.7" style="stroke-width:1.1"/>
<line class="l" x1="255.9" y1="457.3" x2="260.3" y2="457.3" style="stroke-width:1.1"/>
<line class="l" x1="258.1" y1="419.4" x2="261" y2="419.4" style="stroke-width:1.1"/>
<line class="l" x1="247" y1="476" x2="258.8" y2="476" style="stroke-width:1.3"/>
<text class="d" transform="translate(251.4,431) rotate(-90) scale(.88,1)" y="3.9" text-anchor="middle">575</text>
<text class="d" transform="translate(251.4,466.6) rotate(-90) scale(.88,1)" y="3.9" text-anchor="middle">375</text>
<rect class="f" x="271.8" y="376.9" width="67.5" height="80.9" style="stroke-width:1.3"/>
<path class="g" d="M272.2 376.9V430M277.8 376.9V430M283.4 376.9V430M289 376.9V430M294.6 376.9V430M300.3 376.9V430M305.9 376.9V430M311.5 376.9V430M317.1 376.9V430M322.7 376.9V430M328.4 376.9V430M334 376.9V430M271.8 377.3H339.3M271.8 382.9H339.3M271.8 388.5H339.3M271.8 394.2H339.3M271.8 399.8H339.3M271.8 405.4H339.3M271.8 411H339.3M271.8 416.6H339.3M271.8 422.3H339.3M271.8 427.9H339.3" style="stroke-width:1.4"/>
<line class="w" x1="339.1" y1="427" x2="339.1" y2="457.8" style="stroke-width:2.2"/>
<line class="w" x1="272.2" y1="427" x2="272.2" y2="457.8" style="stroke-width:2"/>
<line class="w" x1="271.8" y1="457.2" x2="339.3" y2="457.2" style="stroke-width:2"/>
<rect class="f" x="274" y="378.6" width="9" height="22.2" style="stroke-width:0.9"/>
<rect class="f" x="274" y="400.8" width="9" height="7.7" style="stroke-width:0.8"/>
<line class="l" x1="274" y1="404.6" x2="283" y2="404.6" style="stroke-width:0.7"/>
<rect class="f" x="284.2" y="386.8" width="8" height="17.4" rx="1.4" style="stroke-width:1.4"/>
<path class="f" d="M300.2 389.8 C305 389.8 309.4 392.1 309.4 395.8 C309.4 399.5 305 401.8 300.2 401.8 C296 401.8 293.4 399.4 293.4 395.8 C293.4 392.2 296 389.8 300.2 389.8 Z" style="stroke-width:1.4"/>
<path class="f" d="M300.6 391.7 C304.2 391.7 307.6 393.3 307.6 395.8 C307.6 398.3 304.2 399.9 300.6 399.9 C297.4 399.9 295.4 398.3 295.4 395.8 C295.4 393.3 297.4 391.7 300.6 391.7 Z" style="stroke-width:0.7"/>
<rect class="blk" x="274.6" y="411.6" width="11.9" height="17" rx="1"/>
<rect class="wh" x="277" y="414" width="7.1" height="12.2"/>
<path class="l" d="M284.1 414.5 H281.4 Q277.5 414.5 277.5 418.4 V421.8 Q277.5 425.7 281.4 425.7 H284.1" style="stroke-width:0.8"/>
<circle class="blk" cx="278.3" cy="420.1" r="1.6"/>
<rect class="f" x="273.2" y="429.8" width="64.4" height="26.2" rx="0.6" style="stroke-width:0.8"/>
<rect class="f" x="275.4" y="431.8" width="60.4" height="22.2" rx="4.2" style="stroke-width:1.4"/>
<rect class="f" x="278.2" y="433.8" width="50.6" height="17" rx="3.8" style="stroke-width:1"/>
<line class="l" x1="279.8" y1="442.2" x2="284.8" y2="442.2" style="stroke-width:1.4"/>
<line class="l" x1="282.3" y1="439.7" x2="282.3" y2="444.7" style="stroke-width:1.4"/>
<path class="l" d="M339.5 404.3 L350.6 408.2 L340.5 427.2" style="stroke-width:1.2"/>
<line class="k" x1="359.5" y1="361.8" x2="359.5" y2="469.4" style="stroke-width:1.8"/>
<line class="l" x1="357.3" y1="377.6" x2="361.7" y2="377.6" style="stroke-width:1.1"/>
<line class="l" x1="357.3" y1="402.4" x2="361.7" y2="402.4" style="stroke-width:1.1"/>
<line class="l" x1="357.3" y1="428.6" x2="361.7" y2="428.6" style="stroke-width:1.1"/>
<line class="l" x1="357.3" y1="457.2" x2="361.7" y2="457.2" style="stroke-width:1.1"/>
<line class="l" x1="351" y1="469.2" x2="360.2" y2="469.2" style="stroke-width:1.3"/>
<text class="d" transform="translate(353,370) rotate(-90) scale(.88,1)" y="3.9" text-anchor="middle">40</text>
<text class="d" transform="translate(353,390.6) rotate(-90) scale(.88,1)" y="3.9" text-anchor="middle">667</text>
<text class="d" transform="translate(353,443.4) rotate(-90) scale(.88,1)" y="3.9" text-anchor="middle">760</text>
<text class="d" transform="translate(353,465.6) rotate(-90) scale(.88,1)" y="3.9" text-anchor="middle">40</text>
<text class="d" transform="translate(366.8,415.5) rotate(-90) scale(.88,1)" y="3.9" text-anchor="middle">705</text>
</g>
<g id="r2b">
<text class="d" transform="translate(439.7,355.8) scale(.88,1)" text-anchor="middle">800</text>
<text class="d" transform="translate(464,355.8) scale(.88,1)" text-anchor="middle">420</text>
<text class="d" transform="translate(501.6,356.7) scale(.88,1)" text-anchor="middle">430</text>
<line class="k" x1="424" y1="360.5" x2="512.5" y2="360.5" style="stroke-width:1.8"/>
<line class="l" x1="425.1" y1="358.3" x2="425.1" y2="362.7" style="stroke-width:1.1"/>
<line class="l" x1="454.9" y1="358.3" x2="454.9" y2="362.7" style="stroke-width:1.1"/>
<line class="l" x1="473.3" y1="358.3" x2="473.3" y2="362.7" style="stroke-width:1.1"/>
<line class="l" x1="489.8" y1="358.3" x2="489.8" y2="362.7" style="stroke-width:1.1"/>
<rect class="f" x="423" y="377.3" width="82.4" height="71" style="stroke-width:1.2"/>
<path class="g" d="M426.2 384.4V445.7M431.8 384.4V445.7M437.4 384.4V445.7M443.1 384.4V445.7M448.7 384.4V445.7M454.3 384.4V445.7M459.9 384.4V445.7M465.5 384.4V445.7M471.2 384.4V445.7M476.8 384.4V445.7M482.4 384.4V445.7M488 384.4V445.7M426.2 384.9H490.4M426.2 390.5H490.4M426.2 396.1H490.4M426.2 401.8H490.4M426.2 407.4H490.4M426.2 413H490.4M426.2 418.6H490.4M426.2 424.2H490.4M426.2 429.9H490.4M426.2 435.5H490.4M426.2 441.1H490.4" style="stroke-width:1.3"/>
<line class="l" x1="423" y1="384.3" x2="505.4" y2="384.3" style="stroke-width:0.9"/>
<line class="l" x1="426" y1="384.3" x2="426" y2="445.8" style="stroke-width:0.9"/>
<line class="l" x1="423" y1="445.8" x2="505.4" y2="445.8" style="stroke-width:0.9"/>
<line class="w" x1="423.2" y1="424" x2="423.2" y2="448.3" style="stroke-width:1.8"/>
<rect class="blk" x="431.8" y="384.8" width="19.8" height="14.5" rx="1"/>
<rect class="wh" x="434.2" y="387.2" width="15" height="9.7"/>
<path class="l" d="M434.7 396.9 V393 Q434.7 387.7 440 387.7 H443.4 Q448.7 387.7 448.7 393 V396.9" style="stroke-width:0.8"/>
<circle class="blk" cx="441.7" cy="388.5" r="1.6"/>
<rect class="f" x="460.6" y="384.6" width="29.1" height="29.5" style="stroke-width:1"/>
<rect class="f" x="462.8" y="386.5" width="24.6" height="25.3" rx="6.5" style="stroke-width:1.2"/>
<rect class="f" x="490.4" y="384.3" width="15" height="61.5" style="stroke-width:0.9"/>
<rect class="f" x="491.2" y="386.8" width="12" height="16" style="stroke-width:0.9"/>
<rect class="f" x="491.4" y="413" width="10" height="32" style="stroke-width:1.1"/>
<line class="l" x1="498.8" y1="414.6" x2="491.9" y2="441.5" style="stroke-width:1.2"/>
<rect class="f" x="480" y="424.1" width="10.2" height="14.1" rx="0.8" style="stroke-width:1.2"/>
<path class="f" d="M480 424.1 H468.1 C463.8 424.1 460.8 426.9 460.8 431.1 C460.8 435.3 463.8 438.1 468.1 438.1 H480 Z" style="stroke-width:1.3"/>
<circle cx="468.1" cy="430.8" r="1.5" class="f"/>
<path class="l" d="M423.4 399.6 L415.6 421.8 L423 424.2" style="stroke-width:1.2"/>
<text class="d" transform="translate(457.2,464.3) scale(.88,1)" text-anchor="middle">1730</text>
<line class="k" x1="424.4" y1="466.6" x2="490.9" y2="466.6" style="stroke-width:1.8"/>
<line class="l" x1="424.6" y1="464.2" x2="424.6" y2="469" style="stroke-width:1.1"/>
<line class="l" x1="490.7" y1="464.2" x2="490.7" y2="469" style="stroke-width:1.1"/>
<line class="k" x1="522.5" y1="383" x2="522.5" y2="469.6" style="stroke-width:1.8"/>
<line class="l" x1="520.5" y1="412.6" x2="524.5" y2="412.6" style="stroke-width:1.1"/>
<line class="l" x1="520.6" y1="430.4" x2="524.4" y2="427.6" style="stroke-width:1.2"/>
<line class="k" x1="540.3" y1="383" x2="540.3" y2="445.6" style="stroke-width:1.8"/>
<line class="l" x1="520" y1="383" x2="543.4" y2="383" style="stroke-width:1.2"/>
<line class="l" x1="520" y1="445.6" x2="543.4" y2="445.6" style="stroke-width:1.2"/>
<text class="d" transform="translate(515.8,397.9) rotate(-90) scale(.88,1)" y="3.9" text-anchor="middle">800</text>
<text class="d" transform="translate(515.8,421.6) rotate(-90) scale(.88,1)" y="3.9" text-anchor="middle">430</text>
<text class="d" transform="translate(515.8,457.6) rotate(-90) scale(.88,1)" y="3.9" text-anchor="middle">400</text>
<text class="d" transform="translate(532.3,413.6) rotate(-90) scale(.88,1)" y="3.9" text-anchor="middle">1630</text>
</g>
<!-- ===== ROW 3 RIGHT ===== -->
<g id="r3a">
<text class="d" transform="translate(281.2,544.4) scale(.88,1)" text-anchor="middle">375</text>
<text class="d" transform="translate(324.8,545.8) scale(.88,1)" text-anchor="middle">690</text>
<line class="k" x1="254.4" y1="548.6" x2="334.9" y2="548.6" style="stroke-width:1.8"/>
<line class="l" x1="287.7" y1="546.4" x2="287.7" y2="550.8" style="stroke-width:1.1"/>
<line class="l" x1="313.3" y1="546.4" x2="313.3" y2="550.8" style="stroke-width:1.1"/>
<line class="l" x1="271.6" y1="546" x2="271.6" y2="552" style="stroke-width:1.2"/>
<line class="l" x1="273.2" y1="546" x2="273.2" y2="552" style="stroke-width:1.2"/>
<text class="d" transform="translate(264.8,560.2) scale(.88,1)" text-anchor="middle">40</text>
<line class="k" x1="258.8" y1="566.2" x2="258.8" y2="633.8" style="stroke-width:1.8"/>
<line class="l" x1="255.4" y1="566.2" x2="262.2" y2="566.2" style="stroke-width:1.1"/>
<line class="l" x1="255.4" y1="633.8" x2="262.2" y2="633.8" style="stroke-width:1.1"/>
<text class="d" transform="translate(252,599.8) rotate(-90) scale(.88,1)" y="3.9" text-anchor="middle">1720</text>
<rect class="f" x="271.5" y="565.4" width="67.7" height="68.4" style="stroke-width:1.3"/>
<path class="g" d="M299.7 565.4V633.8M305.3 565.4V633.8M310.9 565.4V633.8M316.5 565.4V633.8M322.1 565.4V633.8M327.8 565.4V633.8M333.4 565.4V633.8M339 565.4V633.8M299.3 566.6H339.2M299.3 572.2H339.2M299.3 577.8H339.2M299.3 583.5H339.2M299.3 589.1H339.2M299.3 594.7H339.2M299.3 600.3H339.2M299.3 605.9H339.2M299.3 611.6H339.2M299.3 617.2H339.2M299.3 622.8H339.2M299.3 628.4H339.2" style="stroke-width:1.2"/>
<line class="l" x1="337.6" y1="566" x2="337.6" y2="594" style="stroke-width:0.7"/>
<line class="l" x1="337.6" y1="617" x2="337.6" y2="633.8" style="stroke-width:0.7"/>
<path class="l" d="M271.8 565.6 L271.8 563.7 L290 563.7 L290 565.6" style="stroke-width:0.9"/>
<rect class="f" x="272.6" y="566.8" width="26.6" height="65.6" rx="0.6" style="stroke-width:0.8"/>
<rect class="f" x="274.9" y="569.1" width="22.7" height="61" rx="4.2" style="stroke-width:1.4"/>
<rect class="f" x="277.8" y="571.4" width="17.6" height="51.2" rx="3.8" style="stroke-width:1"/>
<line class="l" x1="284.7" y1="575.8" x2="289.7" y2="575.8" style="stroke-width:1.4"/>
<line class="l" x1="287.2" y1="573.3" x2="287.2" y2="578.3" style="stroke-width:1.4"/>
<rect class="blk" x="304" y="567.5" width="17.6" height="13.1" rx="1"/>
<rect class="wh" x="306.4" y="569.9" width="12.8" height="8.3"/>
<path class="l" d="M306.9 578.2 V575 Q306.9 570.4 311.5 570.4 H314.1 Q318.7 570.4 318.7 575 V578.2" style="stroke-width:0.8"/>
<circle class="blk" cx="312.8" cy="571.2" r="1.6"/>
<path class="l" d="M339.4 594 L349.3 597.2 L340 617.2" style="stroke-width:1.2"/>
<line class="k" x1="358.6" y1="549.8" x2="358.6" y2="648" style="stroke-width:1.8"/>
<line class="l" x1="356.4" y1="566.4" x2="360.8" y2="566.4" style="stroke-width:1.1"/>
<line class="l" x1="356.4" y1="608.6" x2="360.8" y2="608.6" style="stroke-width:1.1"/>
<line class="l" x1="356.4" y1="633" x2="360.8" y2="633" style="stroke-width:1.1"/>
<line class="l" x1="356.8" y1="584.2" x2="360.6" y2="581.6" style="stroke-width:1.2"/>
<text class="d" transform="translate(353.2,557.4) rotate(-90) scale(.88,1)" y="3.9" text-anchor="middle">40</text>
<text class="d" transform="translate(353.2,589.2) rotate(-90) scale(.88,1)" y="3.9" text-anchor="middle">705</text>
<text class="d" transform="translate(353.2,621) rotate(-90) scale(.88,1)" y="3.9" text-anchor="middle">620</text>
<text class="d" transform="translate(353.2,642.2) rotate(-90) scale(.88,1)" y="3.9" text-anchor="middle">40</text>
<text class="d" transform="translate(367.2,574.3) rotate(-90) scale(.88,1)" y="3.9" text-anchor="middle">395</text>
<text class="d" transform="translate(306.3,643.1) scale(.88,1)" text-anchor="middle">1710</text>
<line class="k" x1="271.5" y1="645.3" x2="339" y2="645.3" style="stroke-width:2"/>
<line class="l" x1="271.8" y1="645.3" x2="271.8" y2="649" style="stroke-width:1.1"/>
<line class="l" x1="338.8" y1="645.3" x2="338.8" y2="649" style="stroke-width:1.1"/>
<circle cx="272" cy="645.3" r="1.8"/><circle cx="338.6" cy="645.3" r="1.8"/>
<text class="d" transform="translate(278,656.4) scale(.88,1)" text-anchor="middle">50</text>
<text class="d" transform="translate(330.8,655.5) scale(.88,1)" text-anchor="middle">40</text>
</g>
<g id="r3b">
<text class="d" transform="translate(465.4,544.8) scale(.88,1)" text-anchor="middle">1700</text>
<line class="k" x1="431.7" y1="549" x2="499.5" y2="549" style="stroke-width:1.9"/>
<line class="l" x1="432" y1="549" x2="432" y2="552.6" style="stroke-width:1.1"/>
<line class="l" x1="499.2" y1="549" x2="499.2" y2="552.6" style="stroke-width:1.1"/>
<circle cx="432.2" cy="549" r="1.7"/><circle cx="499" cy="549" r="1.7"/>
<text class="d" transform="translate(440.2,561.7) scale(.88,1)" text-anchor="middle">50</text>
<text class="d" transform="translate(489.6,561.7) scale(.88,1)" text-anchor="middle">40</text>
<line class="k" x1="418.2" y1="566.8" x2="418.2" y2="633.8" style="stroke-width:1.8"/>
<line class="l" x1="414.8" y1="566.8" x2="421.6" y2="566.8" style="stroke-width:1.1"/>
<line class="l" x1="414.8" y1="633.8" x2="421.6" y2="633.8" style="stroke-width:1.1"/>
<text class="d" transform="translate(411.2,599.9) rotate(-90) scale(.88,1)" y="3.9" text-anchor="middle">1720</text>
<rect class="f" x="431.2" y="566" width="67" height="68.3" style="stroke-width:1.3"/>
<path class="g" d="M458.7 566V634.3M464.3 566V634.3M469.9 566V634.3M475.5 566V634.3M481.1 566V634.3M486.8 566V634.3M492.4 566V634.3M498 566V634.3M458.6 566.6H498.2M458.6 572.2H498.2M458.6 577.8H498.2M458.6 583.5H498.2M458.6 589.1H498.2M458.6 594.7H498.2M458.6 600.3H498.2M458.6 605.9H498.2M458.6 611.6H498.2M458.6 617.2H498.2M458.6 622.8H498.2M458.6 628.4H498.2M458.6 634H498.2" style="stroke-width:1.2"/>
<line class="w" x1="497.6" y1="574" x2="497.6" y2="581.5" style="stroke-width:2.4"/>
<line class="w" x1="497.6" y1="604.5" x2="497.6" y2="612" style="stroke-width:2.4"/>
<line class="l" x1="496.2" y1="612" x2="496.2" y2="634.3" style="stroke-width:0.8"/>
<rect class="f" x="432.4" y="567.2" width="26.2" height="65.8" rx="0.6" style="stroke-width:0.8"/>
<rect class="f" x="434.7" y="569.5" width="22.3" height="61.2" rx="4.2" style="stroke-width:1.4"/>
<rect class="f" x="437.9" y="577.3" width="15.9" height="50.8" rx="3.8" style="stroke-width:1"/>
<line class="l" x1="443.9" y1="623.3" x2="448.9" y2="623.3" style="stroke-width:1.4"/>
<line class="l" x1="446.4" y1="620.8" x2="446.4" y2="625.8" style="stroke-width:1.4"/>
<rect class="blk" x="460" y="619.6" width="16.4" height="12.2" rx="1"/>
<rect class="wh" x="462.4" y="622" width="11.6" height="7.4"/>
<path class="l" d="M462.9 622 V624.8 Q462.9 628.9 467 628.9 H469.4 Q473.5 628.9 473.5 624.8 V622" style="stroke-width:0.8"/>
<circle class="blk" cx="468.2" cy="628.1" r="1.6"/>
<path class="l" d="M497.4 580.4 L508 599.4 Q503.6 604 498.4 604.2" style="stroke-width:1.2"/>
<line class="k" x1="517.9" y1="549.9" x2="517.9" y2="650.7" style="stroke-width:1.8"/>
<line class="l" x1="515.7" y1="566.8" x2="520.1" y2="566.8" style="stroke-width:1.1"/>
<line class="l" x1="515.7" y1="606.4" x2="520.1" y2="606.4" style="stroke-width:1.1"/>
<line class="l" x1="515.7" y1="633.8" x2="520.1" y2="633.8" style="stroke-width:1.1"/>
<line class="l" x1="516" y1="581.6" x2="519.8" y2="578.8" style="stroke-width:1.2"/>
<text class="d" transform="translate(511.6,560.3) rotate(-90) scale(.88,1)" y="3.9" text-anchor="middle">40</text>
<text class="d" transform="translate(511.6,592.8) rotate(-90) scale(.88,1)" y="3.9" text-anchor="middle">705</text>
<text class="d" transform="translate(511.6,621) rotate(-90) scale(.88,1)" y="3.9" text-anchor="middle">685</text>
<text class="d" transform="translate(511.6,643.6) rotate(-90) scale(.88,1)" y="3.9" text-anchor="middle">40</text>
<text class="d" transform="translate(526.6,573.6) rotate(-90) scale(.88,1)" y="3.9" text-anchor="middle">300</text>
<line class="k" x1="411.9" y1="650.7" x2="469" y2="650.7" style="stroke-width:1.8"/>
<line class="l" x1="432.3" y1="648.1" x2="432.3" y2="653.3" style="stroke-width:1.1"/>
<line class="l" x1="446.4" y1="648.1" x2="446.4" y2="653.3" style="stroke-width:1.1"/>
<line class="l" x1="467" y1="648.1" x2="467" y2="653.3" style="stroke-width:1.1"/>
<text class="d" transform="translate(421,647) scale(.88,1)" text-anchor="middle">375</text>
<text class="d" transform="translate(457.1,647) scale(.88,1)" text-anchor="middle">690</text>
</g>
<!-- ===== ROW 4 RIGHT ===== -->
<g id="r4a">
<text class="d" transform="translate(266,681) scale(.88,1)" text-anchor="middle">40</text>
<text class="d" transform="translate(297.6,681) scale(.88,1)" text-anchor="middle">1200</text>
<text class="d" transform="translate(328.4,680.4) scale(.88,1)" text-anchor="middle">40</text>
<line class="k" x1="261.9" y1="685" x2="334.7" y2="685" style="stroke-width:1.8"/>
<line class="l" x1="271.9" y1="682.4" x2="271.9" y2="688.4" style="stroke-width:1.1"/>
<line class="l" x1="318.8" y1="682.4" x2="318.8" y2="688.4" style="stroke-width:1.2"/>
<line class="l" x1="320.3" y1="682.4" x2="320.3" y2="688.4" style="stroke-width:1.2"/>
<text class="d" transform="translate(282.8,693.6) scale(.88,1)" text-anchor="middle">850</text>
<text class="d" transform="translate(329.6,693.6) scale(.88,1)" text-anchor="middle">370</text>
<line class="k" x1="267.9" y1="696.9" x2="293.8" y2="696.9" style="stroke-width:1.8"/>
<line class="l" x1="272.3" y1="694.5" x2="272.3" y2="699.3" style="stroke-width:1.1"/>
<line class="l" x1="292.2" y1="694.5" x2="292.2" y2="699.3" style="stroke-width:1.1"/>
<line class="k" x1="303.4" y1="696.9" x2="333.7" y2="696.9" style="stroke-width:1.8"/>
<line class="l" x1="304.2" y1="694.5" x2="304.2" y2="699.3" style="stroke-width:1.1"/>
<line class="l" x1="318.3" y1="694.5" x2="318.3" y2="699.3" style="stroke-width:1.1"/>
<line class="l" x1="272.3" y1="687" x2="272.3" y2="697" style="stroke-width:0.9"/>
<line class="l" x1="318.3" y1="689" x2="318.3" y2="697" style="stroke-width:0.9"/>
<line class="k" x1="259.5" y1="701.9" x2="259.5" y2="764.7" style="stroke-width:1.9"/>
<line class="l" x1="257.3" y1="710.5" x2="261.7" y2="710.5" style="stroke-width:1.1"/>
<line class="l" x1="257.3" y1="721.8" x2="261.7" y2="721.8" style="stroke-width:1.1"/>
<line class="l" x1="257.3" y1="761.3" x2="261.7" y2="761.3" style="stroke-width:1.1"/>
<text class="d" transform="translate(253,712.5) rotate(-90) scale(.88,1)" y="3.9" text-anchor="middle">280</text>
<text class="d" transform="translate(253,741.8) rotate(-90) scale(.88,1)" y="3.9" text-anchor="middle">1040</text>
<text class="d" transform="translate(266.4,755.3) rotate(-90) scale(.88,1)" y="3.9" text-anchor="middle">40</text>
<rect class="f" x="271.3" y="709.5" width="49.4" height="53.2" style="stroke-width:1.2"/>
<rect class="f" x="272.9" y="711" width="46.3" height="50.2" style="stroke-width:0.8"/>
<path class="g" d="M275.3 711V761.2M280.7 711V761.2M286.2 711V761.2M291.6 711V761.2M297.1 711V761.2M302.5 711V761.2M308 711V761.2M313.4 711V761.2M318.9 711V761.2M272.9 715.6H319.2M272.9 721.1H319.2M272.9 726.5H319.2M272.9 732H319.2M272.9 737.4H319.2M272.9 742.9H319.2M272.9 748.3H319.2M272.9 753.8H319.2M272.9 759.2H319.2" style="stroke-width:1.3"/>
<rect class="f" x="273.6" y="711.6" width="17.8" height="8.8" style="stroke-width:1.3"/>
<rect class="f" x="294.8" y="711" width="19.9" height="10" style="stroke-width:0.8"/>
<line class="l" x1="314.7" y1="711" x2="311.5" y2="721" style="stroke-width:0.8"/>
<line class="l" x1="317.6" y1="711" x2="316" y2="721" style="stroke-width:0.8"/>
<line class="l" x1="296.5" y1="711" x2="298" y2="721" style="stroke-width:0.8"/>
<circle class="f" cx="304.8" cy="716.2" r="4.4" style="stroke-width:1.2"/><circle class="f" cx="304.8" cy="716.2" r="3" style="stroke-width:0.6"/><circle cx="304.8" cy="714" r="0.8"/>
<rect class="f" x="273.9" y="736.8" width="7.6" height="17.9" rx="1.4" style="stroke-width:1.4"/>
<path class="f" d="M289.2 738.7 C293.7 738.7 297.8 741.2 297.8 745.2 C297.8 749.2 293.7 751.7 289.2 751.7 C285.2 751.7 282.8 749.1 282.8 745.2 C282.8 741.3 285.2 738.7 289.2 738.7 Z" style="stroke-width:1.4"/>
<path class="f" d="M289.6 740.6 C292.9 740.6 296 742.3 296 745.2 C296 748.1 292.9 749.8 289.6 749.8 C286.6 749.8 284.8 748 284.8 745.2 C284.8 742.4 286.6 740.6 289.6 740.6 Z" style="stroke-width:0.7"/>
<path class="l" d="M320.4 722.8 L331.7 726.4 L320.4 746.7" style="stroke-width:1.2"/>
<line class="w" x1="320.6" y1="746.7" x2="320.6" y2="762.7" style="stroke-width:1.8"/>
<line class="k" x1="339.7" y1="701.9" x2="339.7" y2="763.7" style="stroke-width:1.9"/>
<line class="l" x1="337.5" y1="709.5" x2="341.9" y2="709.5" style="stroke-width:1.1"/>
<line class="l" x1="337.5" y1="721.4" x2="341.9" y2="721.4" style="stroke-width:1.1"/>
<line class="l" x1="337.5" y1="746.7" x2="341.9" y2="746.7" style="stroke-width:1.1"/>
<line class="l" x1="337.5" y1="762.1" x2="341.9" y2="762.1" style="stroke-width:1.1"/>
<text class="d" transform="translate(333.4,711.9) rotate(-90) scale(.88,1)" y="3.9" text-anchor="middle">305</text>
<text class="d" transform="translate(346.8,731.8) rotate(-90) scale(.88,1)" y="3.9" text-anchor="middle">685</text>
<text class="d" transform="translate(333.4,755.3) rotate(-90) scale(.88,1)" y="3.9" text-anchor="middle">410</text>
</g>
<g id="r4b">
<text class="d" transform="translate(429.7,698) scale(.88,1)" text-anchor="middle">40</text>
<text class="d" transform="translate(463.8,698) scale(.88,1)" text-anchor="middle">1200</text>
<text class="d" transform="translate(496.1,698) scale(.88,1)" text-anchor="middle">40</text>
<line class="k" x1="423.3" y1="701.2" x2="500.4" y2="701.2" style="stroke-width:1.8"/>
<line class="l" x1="439.3" y1="698.6" x2="439.3" y2="703.8" style="stroke-width:1.1"/>
<line class="l" x1="485.3" y1="698.6" x2="485.3" y2="703.8" style="stroke-width:1.1"/>
<line class="l" x1="438.6" y1="698.6" x2="438.6" y2="703.8" style="stroke-width:0.9"/>
<line class="l" x1="484.6" y1="698.6" x2="484.6" y2="703.8" style="stroke-width:0.9"/>
<rect class="f" x="438.9" y="718.5" width="47.5" height="33.5" style="stroke-width:1.2"/>
<rect class="f" x="440.2" y="719.8" width="44.9" height="30.9" style="stroke-width:0.7"/>
<path class="g" d="M444.4 719.8V750.7M449.9 719.8V750.7M455.4 719.8V750.7M460.9 719.8V750.7M466.4 719.8V750.7M471.9 719.8V750.7M477.4 719.8V750.7M482.9 719.8V750.7M440.2 723H485.1M440.2 728.5H485.1M440.2 734H485.1M440.2 739.5H485.1M440.2 745H485.1M440.2 750.5H485.1" style="stroke-width:1.1"/>
<rect class="f" x="441" y="726.5" width="7" height="16.8" rx="1.4" style="stroke-width:1.4"/>
<path class="f" d="M456.1 728.8 C460.6 728.8 464.7 731.2 464.7 735.2 C464.7 739.2 460.6 741.6 456.1 741.6 C452.1 741.6 449.7 739 449.7 735.2 C449.7 731.4 452.1 728.8 456.1 728.8 Z" style="stroke-width:1.4"/>
<path class="f" d="M456.5 730.7 C459.8 730.7 462.9 732.4 462.9 735.2 C462.9 738 459.8 739.7 456.5 739.7 C453.5 739.7 451.7 737.9 451.7 735.2 C451.7 732.5 453.5 730.7 456.5 730.7 Z" style="stroke-width:0.7"/>
<path class="l" d="M486.4 721.7 L497.2 742.9 Q492.5 746.6 486.6 747.2" style="stroke-width:1.2"/>
<line class="k" x1="413.4" y1="716.3" x2="413.4" y2="752.4" style="stroke-width:1.8"/>
<line class="l" x1="410.8" y1="749.4" x2="416" y2="749.4" style="stroke-width:1.1"/>
<line class="k" x1="427" y1="716.3" x2="427" y2="743.7" style="stroke-width:1.8"/>
<line class="l" x1="424.6" y1="735.1" x2="429.4" y2="735.1" style="stroke-width:1.1"/>
<line class="l" x1="411.4" y1="718.2" x2="429.6" y2="718.2" style="stroke-width:1.1"/>
<text class="d" transform="translate(407,735.8) rotate(-90) scale(.88,1)" y="3.9" text-anchor="middle">800</text>
<text class="d" transform="translate(421.4,729.3) rotate(-90) scale(.88,1)" y="3.9" text-anchor="middle">400</text>
<line class="k" x1="505.8" y1="705.5" x2="505.8" y2="767.5" style="stroke-width:2"/>
<circle cx="505.8" cy="720" r="1.7"/><circle cx="505.8" cy="749.4" r="1.7"/>
<line class="l" x1="503.4" y1="720" x2="508.2" y2="720" style="stroke-width:1.1"/>
<line class="l" x1="503.4" y1="749.4" x2="508.2" y2="749.4" style="stroke-width:1.1"/>
<text class="d" transform="translate(500.6,713.1) rotate(-90) scale(.88,1)" y="3.9" text-anchor="middle">40</text>
<text class="d" transform="translate(500.6,733.6) rotate(-90) scale(.88,1)" y="3.9" text-anchor="middle">685</text>
<text class="d" transform="translate(500.6,758.4) rotate(-90) scale(.88,1)" y="3.9" text-anchor="middle">40</text>
<text class="d" transform="translate(515.6,721.3) rotate(-90) scale(.88,1)" y="3.9" text-anchor="middle">57</text>
<text class="d" transform="translate(515.6,748.1) rotate(-90) scale(.88,1)" y="3.9" text-anchor="middle">58</text>
</g>


</svg>
</body>
</html>
